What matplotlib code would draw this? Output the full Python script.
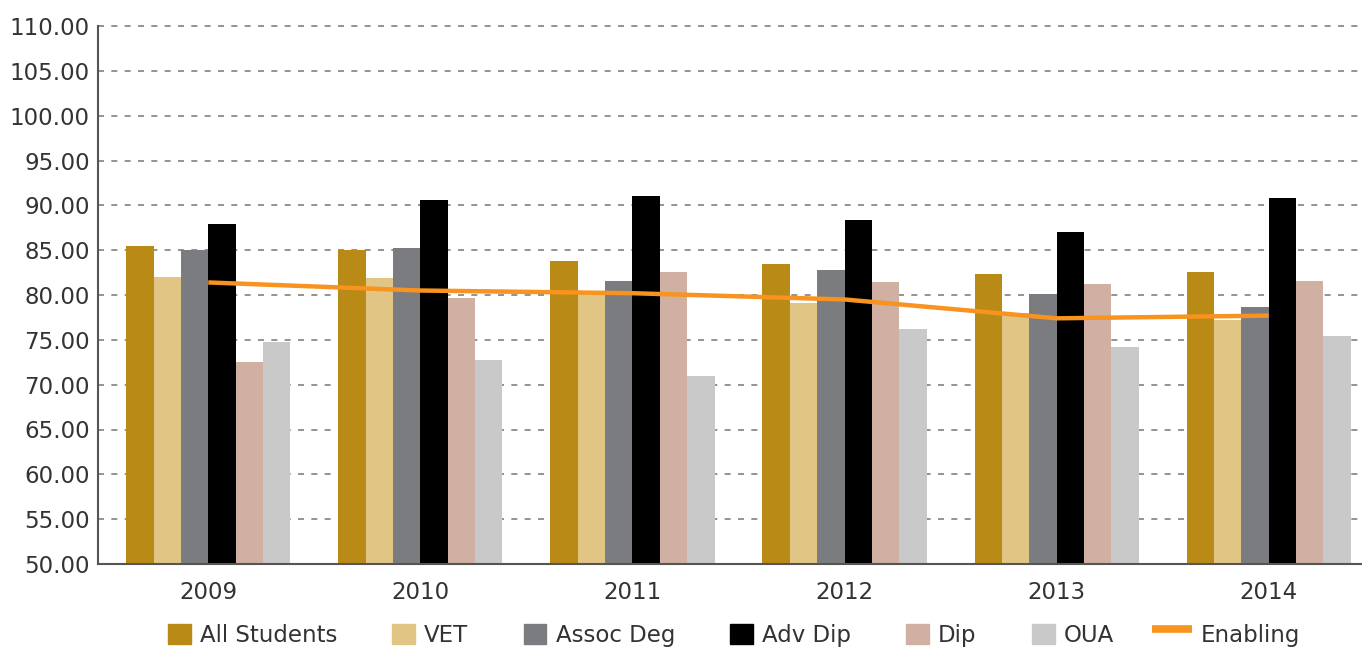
import numpy as np
import matplotlib
matplotlib.use("Agg")
import matplotlib.pyplot as plt
from matplotlib.lines import Line2D
from matplotlib.patches import Patch

# Values
years = ["2009", "2010", "2011", "2012", "2013", "2014"]
all_students = [85.5, 85.0, 83.8, 83.5, 82.3, 82.6]
vet = [82.0, 81.9, 80.2, 79.1, 78.0, 77.2]
assoc_deg = [85.0, 85.2, 81.6, 82.8, 80.1, 78.7]
adv_dip = [87.9, 90.6, 91.0, 88.4, 87.0, 90.8]
dip = [72.5, 79.7, 82.6, 81.4, 81.2, 81.6]
oua = [74.8, 72.8, 71.0, 76.2, 74.2, 75.4]
enabling = [81.4, 80.5, 80.2, 79.5, 77.4, 77.7]

bar_series = [
    ("All Students", all_students, "#BA8A16"),
    ("VET", vet, "#E0C584"),
    ("Assoc Deg", assoc_deg, "#7A7C80"),
    ("Adv Dip", adv_dip, "#000000"),
    ("Dip", dip, "#D1B0A4"),
    ("OUA", oua, "#C8C9C8"),
]
line_color = "#F7931E"


class LongLineHandler:
    # draws the legend line longer than the square patches
    def legend_artist(self, legend, orig_handle, fontsize, handlebox):
        x0, y0 = handlebox.xdescent, handlebox.ydescent
        w, h = handlebox.width, handlebox.height
        line = Line2D([x0 + w - 1.75 * w, x0 + w], [y0 + h / 2, y0 + h / 2],
                      color=line_color, lw=5.5, solid_capstyle="butt")
        handlebox.add_artist(line)
        return line


fig = plt.figure(figsize=(13.62, 6.48), dpi=100)
ax = fig.add_axes([98 / 1362, 1 - 564 / 648, 1 - 98 / 1362, (564 - 26) / 648])

x = np.arange(len(years))
n = len(bar_series)
width = 0.129
for i, (name, vals, color) in enumerate(bar_series):
    offs = (i - (n - 1) / 2) * width
    ax.bar(x + offs, np.array(vals) - 50, width=width, bottom=50, color=color,
           zorder=2, label=name)

ax.plot(x, enabling, color=line_color, lw=3.2, zorder=3, solid_capstyle="butt")

ax.set_ylim(50, 110)
ax.set_yticks(np.arange(50, 111, 5))
ax.set_yticklabels([f"{v:.2f}" for v in np.arange(50, 111, 5)])
ax.set_xlim(-0.52, 5.44)
ax.set_xticks(x)
ax.set_xticklabels(years)

ax.yaxis.grid(True, color="#808080", lw=1.2, linestyle=(0, (3.6, 4.4)), zorder=1)
ax.set_axisbelow(True)
for gl in ax.yaxis.get_gridlines():
    gl.set_clip_on(False)
ax.tick_params(axis="both", length=0, labelsize=16.5, colors="#333333")
ax.tick_params(axis="y", pad=6)
ax.tick_params(axis="x", pad=12)

for s in ["top", "right"]:
    ax.spines[s].set_visible(False)
for s in ["left", "bottom"]:
    ax.spines[s].set_color("#555555")
    ax.spines[s].set_linewidth(1.5)

handles = [Patch(color=c) for _, _, c in bar_series] + [Line2D([], [], color=line_color)]
labels = [nm for nm, _, _ in bar_series] + ["Enabling"]
fig.legend(handles, labels, loc="center", bbox_to_anchor=(0.539, 0.0193), ncol=7,
           frameon=False, fontsize=16.5, handlelength=1.0, handleheight=1.0,
           handletextpad=0.4, columnspacing=2.4, labelcolor="#333333",
           handler_map={Line2D: LongLineHandler()})

fig.savefig("out.png", dpi=100)
